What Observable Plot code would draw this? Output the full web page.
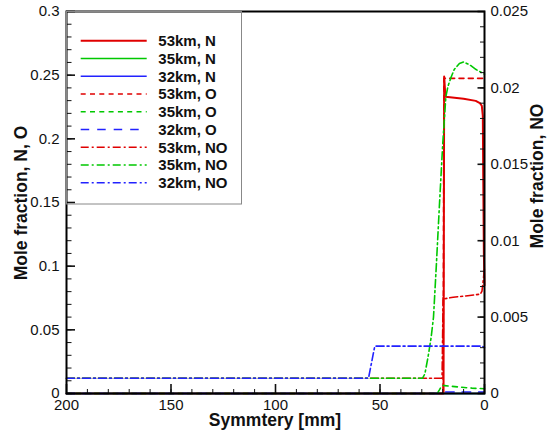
<!DOCTYPE html>
<html>
<head>
<meta charset="utf-8">
<script src="https://cdn.jsdelivr.net/npm/d3@7"></script>
<script src="https://cdn.jsdelivr.net/npm/@observablehq/plot@0.6"></script>
<style>
  body { margin: 0; background: #fff; }
  #chart { width: 551px; height: 431px; }
</style>
</head>
<body>
<div id="chart"></div>
<script>
// Profiles along the symmetry line: [distance in mm, mole fraction]
const n53 = [[200, 0], [19.6, 0], [19.3, 0.249], [18.7, 0.233], [10, 0.2315], [4.2, 0.2298], [2.2, 0.228], [1.3, 0.226], [0.8, 0.218], [0.6, 0.17], [0.3, 0.11], [0, 0.085]];
const n35 = [[200, 0], [0, 0]];
const n32 = [[200, 0], [0, 0]];
const o53 = [[200, 0], [19.8, 0], [19.4, 0.2475], [0, 0.2475]];
const o35 = [[200, 0], [22.6, 0], [21.5, 0.003], [20.4, 0.0063], [19, 0.0062], [16, 0.0057], [12, 0.005], [6, 0.0042], [0, 0.0037]];
const o32 = [[200, 0], [22, 0], [20.5, 0.0012], [0, 0.0012]];
// NO mole fraction (right axis)
const no53 = [[200, 0.001], [20.3, 0.001], [19.8, 0.0063], [19.2, 0.0062], [15, 0.0063], [8, 0.0064], [2, 0.0065], [1.2, 0.0067], [0.6, 0.0074], [0, 0.0082]];
const no35 = [[200, 0.001], [29.6, 0.001], [28.5, 0.0013], [27, 0.0024], [25.5, 0.0037], [24.4, 0.005], [23, 0.0085], [21.5, 0.0125], [20, 0.0163], [18.5, 0.0194], [17.5, 0.0201], [16, 0.0207], [14.5, 0.0212], [12, 0.0216], [10, 0.0217], [7, 0.0215], [4, 0.0212], [0, 0.0209]];
const no32 = [[200, 0.001], [55.5, 0.001], [52.5, 0.0031], [1, 0.0031], [0, 0.003]];

const seriesNames = ["53km, N", "35km, N", "32km, N", "53km, O", "35km, O", "32km, O", "53km, NO", "35km, NO", "32km, NO"];
const seriesData = [n53, n35, n32, o53, o35, o32, no53, no35, no32];
const seriesOnNOAxis = [false, false, false, false, false, false, true, true, true];

const xTicks = [200, 150, 100, 50, 0];
const yTicks = [0, 0.05, 0.1, 0.15, 0.2, 0.25, 0.3];
const noTicks = [0, 0.005, 0.01, 0.015, 0.02, 0.025];

// styling
const RED = "#e00000", GREEN = "#00c800", BLUE = "#2222ff";
const colors = [RED, GREEN, BLUE, RED, GREEN, BLUE, RED, GREEN, BLUE];
const dashes = [null, null, null, "5,4.3", "5,4.3", "8.5,8", "8,3,2,3", "8,3,2,3", "8,3,2,3"];
const widths = [2, 1.6, 1.6, 1.6, 1.6, 1.6, 1.6, 1.6, 1.6];

const K = 0.3 / 0.025; // NO axis spans 0..0.025 over the same height as 0..0.3
const FONT = "'Liberation Sans', Arial, sans-serif";

const xMinor = d3.range(0, 201, 10);
const yMinor = d3.range(0, 0.3001, 0.01);
const noMinor = d3.range(0, 0.02501, 0.001).map(v => v * K);
const blank = () => "";

const lineMarks = seriesData.map((data, i) => Plot.line(data, {
  x: d => d[0],
  y: d => seriesOnNOAxis[i] ? d[1] * K : d[1],
  stroke: colors[i],
  strokeWidth: widths[i],
  strokeDasharray: dashes[i] || undefined,
  curve: "linear"
}));

const chart = Plot.plot({
  width: 551,
  height: 431,
  marginLeft: 66,
  marginRight: 67,
  marginTop: 11,
  marginBottom: 38,
  x: {domain: [200, 0]},
  y: {domain: [0, 0.3]},
  style: {fontFamily: FONT, fontSize: "15px", color: "#111", background: "#fff"},
  marks: [
    ...lineMarks,
    // bottom axis
    Plot.axisX({ticks: xMinor, tickSize: -4, tickFormat: blank, label: null}),
    Plot.axisX({ticks: xTicks, tickSize: -9, strokeWidth: 1.6, tickFormat: blank, label: null}),
    Plot.axisX({ticks: xTicks, tickSize: 0, tickPadding: 6, tickFormat: d => String(d), label: null}),
    // left axis: N, O
    Plot.axisY({ticks: yMinor, tickSize: -5.5, tickFormat: blank, label: null}),
    Plot.axisY({ticks: yTicks, tickSize: -9, strokeWidth: 1.6, tickFormat: blank, label: null}),
    Plot.axisY({ticks: yTicks, tickSize: 0, tickPadding: 7, tickFormat: d => String(d), label: null}),
    // right axis: NO
    Plot.axisY({anchor: "right", ticks: noMinor, tickSize: -5, tickFormat: blank, label: null}),
    Plot.axisY({anchor: "right", ticks: noTicks.map(v => v * K), tickSize: -7.5, strokeWidth: 1.6, tickFormat: blank, label: null}),
    Plot.axisY({anchor: "right", ticks: noTicks.map(v => v * K), tickSize: 0, tickPadding: 6,
      tickFormat: d => String(+(d / K).toFixed(4)), label: null}),
    Plot.frame({stroke: "#000", strokeWidth: 2})
  ]
});

const svg = d3.select(chart);

// axis titles
svg.append("text")
  .attr("transform", "translate(27,203) rotate(-90)")
  .attr("text-anchor", "middle")
  .attr("font-family", FONT).attr("font-weight", "bold").attr("font-size", 17.5)
  .attr("fill", "#111")
  .text("Mole fraction, N, O");
svg.append("text")
  .attr("transform", "translate(543,176) rotate(-90)")
  .attr("text-anchor", "middle")
  .attr("font-family", FONT).attr("font-weight", "bold").attr("font-size", 17.5)
  .attr("fill", "#111")
  .text("Mole fraction, NO");
svg.append("text")
  .attr("x", 275).attr("y", 426)
  .attr("text-anchor", "middle")
  .attr("font-family", FONT).attr("font-weight", "bold").attr("font-size", 17.5)
  .attr("fill", "#111")
  .text("Symmtery [mm]");

// legend box in the upper-left corner of the frame
const legend = svg.append("g").attr("text-anchor", "start");
legend.append("rect")
  .attr("x", 66.5).attr("y", 11.5).attr("width", 175).attr("height", 192.5)
  .attr("fill", "none").attr("stroke", "#888").attr("stroke-width", 1);
seriesNames.forEach((name, i) => {
  const y = 40.7 + i * 17.75;
  legend.append("line")
    .attr("x1", 80.7).attr("x2", 146.7).attr("y1", y).attr("y2", y)
    .attr("stroke", colors[i]).attr("stroke-width", widths[i])
    .attr("stroke-dasharray", dashes[i]);
  legend.append("text")
    .attr("x", 158.3).attr("y", y + 5.3)
    .attr("text-anchor", "start")
    .attr("font-family", FONT).attr("font-weight", "bold").attr("font-size", 15)
    .attr("fill", "#111")
    .text(name);
});

document.getElementById("chart").appendChild(chart);
</script>
</body>
</html>
